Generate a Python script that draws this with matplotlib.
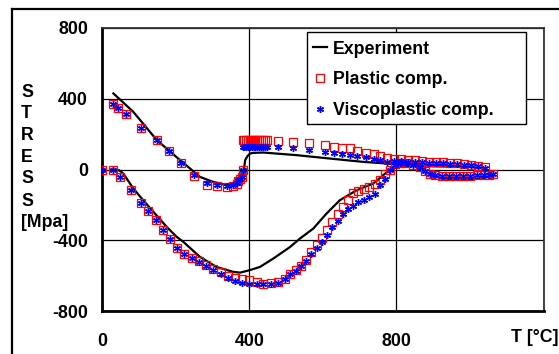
import matplotlib
matplotlib.use("Agg")
import matplotlib.pyplot as plt
from matplotlib.lines import Line2D
from matplotlib.patches import Rectangle

plt.rcParams['font.family'] = ['Liberation Sans', 'DejaVu Sans']
plt.rcParams['font.weight'] = 'bold'

# ---------------- data ----------------
# Experiment (heating branch then cooling branch)
exp_T = [30, 47, 58, 85, 112, 140, 176, 203, 221, 266, 311, 357, 375, 400, 429, 465,
         511, 538, 574, 610, 646, 692, 737, 764, 792, 820, 850, 877, 922, 977, 1031, 1063,
         1040, 1000, 900, 850, 800, 773, 710, 619, 529, 438, 410, 402, 395, 389, 384,
         375, 366, 339, 302, 266, 239, 212, 149, 85, 31]
exp_S = [0, -5, -23, -107, -174, -240, -325, -381, -409, -494, -551, -579, -583, -570, -551, -504,
         -438, -390, -334, -249, -174, -117, -79, -32, 15, 22, 18, -13, -51, -57, -51, -35,
         5, 15, 18, 22, 28, 34, 43, 62, 81, 96, 94, 90, 75, 53, -23,
         -55, -70, -89, -70, -42, 6, 53, 166, 326, 430]

# Computations: heating branch
heat_T = [0, 29, 49, 78, 107, 126, 146, 165, 185, 205, 224, 244, 264, 283, 302, 322, 341, 361,
          380, 400, 420, 438, 459, 479, 497, 512, 527, 540, 554, 567, 583, 597, 611, 625, 640,
          655, 669, 682, 696, 711, 726, 741, 755, 769, 782, 796, 810, 827, 845, 864, 877, 891,
          904, 923, 942, 961, 980, 999, 1018, 1037, 1052, 1063]
heat_plastic = [0, 0, -45, -117, -187, -236, -287, -340, -394, -445, -475, -498, -519, -538,
                -560, -580, -600, -612, -617, -627, -638, -645, -642, -636, -617, -589, -570,
                -546, -513, -466, -428, -385, -340, -296, -253, -211, -170, -132, -121, -108,
                -98, -83, -61, -27, 0, 30, 38, 34, 24, 15, -8, -27, -32, -34, -35, -35, -35,
                -34, -33, -31, -30, -28]
heat_visco = [0, 0, -45, -117, -187, -236, -287, -340, -394, -445, -475, -500, -522, -545,
              -568, -590, -612, -628, -640, -650, -650, -648, -645, -640, -620, -592, -572,
              -548, -518, -478, -441, -410, -372, -325, -291, -253, -225, -206, -183, -170,
              -155, -136, -89, -51, -4, 24, 36, 34, 24, 15, -8, -27, -32, -34, -35, -35, -35,
              -34, -33, -31, -30, -28]

# Computations: cooling branch
cool_T = [1040, 1021, 1002, 983, 964, 945, 926, 907, 888, 869, 850, 832, 813, 794, 773, 755,
          738, 717, 694, 674, 651, 629, 606, 563, 520, 479,
          447, 442, 437, 432, 427, 422, 417, 412, 407, 402, 397, 392, 387, 382,
          384, 379, 375, 370, 366, 355, 339, 312, 284, 250, 215, 181, 149, 106, 64, 44, 31]
cool_plastic = [15, 22, 28, 32, 35, 38, 40, 42, 44, 48, 52, 56, 58, 62, 66, 76,
                87, 96, 105, 119, 124, 128, 137, 147, 153, 162,
                165, 165, 165, 165, 165, 165, 165, 165, 165, 165, 165, 165, 165, 165,
                0, -42, -55, -65, -80, -92, -100, -95, -85, -35, 34, 105, 166, 236, 311, 345, 368]
cool_visco = [8, 18, 24, 28, 30, 33, 35, 37, 38, 40, 43, 45, 47, 50, 45, 52,
              62, 68, 75, 83, 90, 94, 100, 113, 124, 128,
              128, 128, 128, 128, 128, 128, 128, 128, 128, 128, 128, 128, 128, 128,
              0, -42, -55, -61, -76, -86, -94, -86, -78, -32, 34, 105, 166, 236, 311, 345, 368]

x_ticks = [0, 400, 800, 1200]
x_ticklabels = ['0', '400', '800', '']
y_ticks = [-800, -400, 0, 400, 800]
y_ticklabels = ['-800', '-400', '0', '400', '800']

# ---------------- figure ----------------
W, H = 559, 354
fig = plt.figure(figsize=(W / 100, H / 100), dpi=100)

def fx(px):
    return px / W

def fy(py):
    return 1 - py / H

# outer frame (left and top visible)
fig.add_artist(Line2D([fx(12), fx(12)], [fy(9), -0.1], color='black', lw=1.6,
                      transform=fig.transFigure))
fig.add_artist(Line2D([fx(12), 1.1], [fy(9), fy(9)], color='black', lw=1.6,
                      transform=fig.transFigure))

ax = fig.add_axes([fx(102), fy(311), fx(543.7) - fx(102), fy(28) - fy(311)])
ax.set_xlim(0, 1200)
ax.set_ylim(-800, 800)

ax.plot(exp_T, exp_S, color='black', lw=1.6, zorder=3, label='Experiment')
ax.plot(heat_T + cool_T, heat_plastic + cool_plastic, linestyle='none', marker='s',
        markersize=5.2, markerfacecolor='none', markeredgecolor='#FF0000',
        markeredgewidth=0.9, zorder=4, label='Plastic comp.')
ax.plot(heat_T + cool_T, heat_visco + cool_visco, linestyle='none', marker=(6, 2, 0),
        markersize=5.0, markeredgecolor='#0000FF', color='#0000FF',
        markeredgewidth=1.0, zorder=5, label='Viscoplastic comp.')

ax.set_xticks(x_ticks)
ax.set_xticklabels(x_ticklabels)
ax.set_yticks(y_ticks)
ax.set_yticklabels(y_ticklabels)
ax.tick_params(axis='both', length=0, labelsize=12.8)
ax.tick_params(axis='x', pad=16)
ax.tick_params(axis='y', pad=10)
for lab in ax.get_xticklabels() + ax.get_yticklabels():
    lab.set_fontweight('bold')

ax.grid(True, color='black', lw=0.9)
ax.set_axisbelow(True)
for side in ['left', 'bottom']:
    ax.spines[side].set_linewidth(2.0)
    ax.spines[side].set_color('black')
for side in ['top', 'right']:
    ax.spines[side].set_linewidth(1.3)
    ax.spines[side].set_color('#333333')

# axis titles
ax.text(fx(535), fy(338), 'T [°C]', transform=fig.transFigure, ha='center', va='center',
        fontsize=12.8, fontweight='bold')
ylab = ['S', 'T', 'R', 'E', 'S', 'S', '[Mpa]']
ypos = [92.5, 114, 136, 157.5, 179, 201, 222.5]
for t, yp in zip(ylab, ypos):
    fig.text(fx(21), fy(yp), t, ha='left', va='center', fontsize=12.8, fontweight='bold')

# legend box + legend
box = Rectangle((fx(307), fy(124)), fx(526) - fx(307), fy(32) - fy(124),
                transform=fig.transFigure, facecolor='white', edgecolor='black',
                lw=1.0, zorder=10, clip_on=False)
ax.add_patch(box)
leg = ax.legend(loc='upper left', bbox_to_anchor=(fx(309), fy(37)),
                bbox_transform=fig.transFigure, frameon=False, fontsize=12.8,
                handlelength=0.8, handletextpad=0.35, labelspacing=0.78,
                borderpad=0.2, borderaxespad=0, markerscale=1.0)
leg.set_zorder(11)
for txt in leg.get_texts():
    txt.set_fontweight('bold')

fig.savefig('out.png', dpi=100)
